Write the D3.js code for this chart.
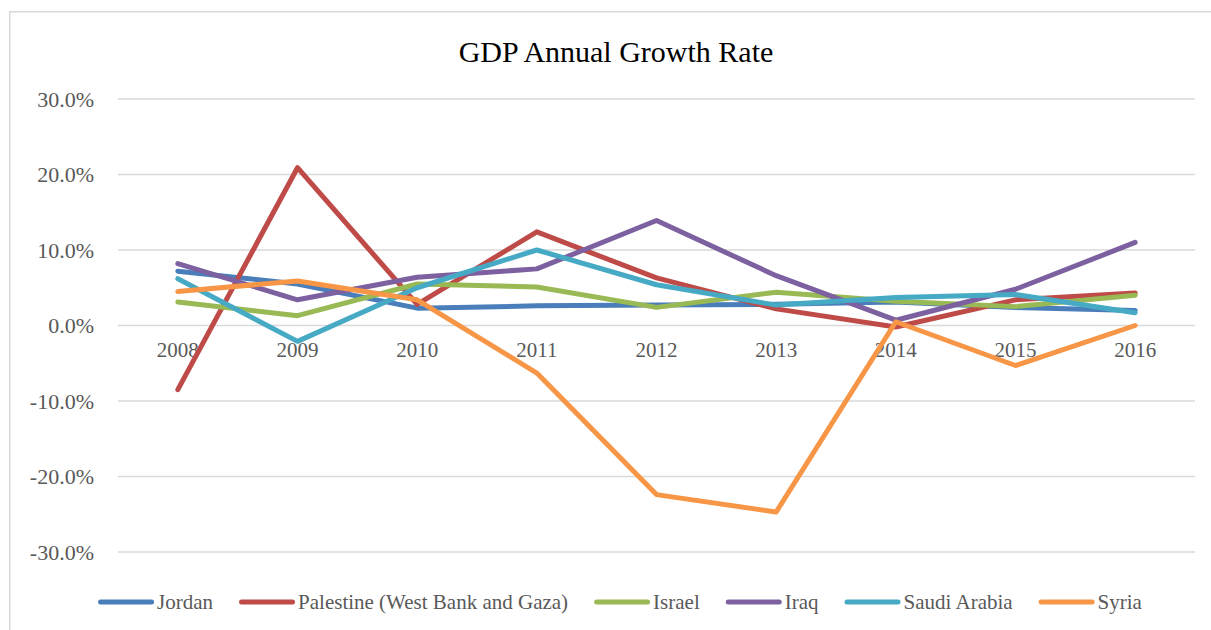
<!DOCTYPE html>
<html><head><meta charset="utf-8">
<script src="https://cdn.jsdelivr.net/npm/d3@7"></script>
<style>body{margin:0;background:#fff}svg{display:block}</style>
</head><body>
<script>
const years = ["2008","2009","2010","2011","2012","2013","2014","2015","2016"];
const jordan    = [7.2, 5.5, 2.3, 2.6, 2.7, 2.8, 3.1, 2.4, 2.0];
const palestine = [-8.5, 20.9, 2.8, 12.4, 6.3, 2.2, -0.2, 3.4, 4.3];
const israel    = [3.1, 1.3, 5.5, 5.1, 2.4, 4.4, 3.2, 2.5, 4.0];
const iraq      = [8.2, 3.4, 6.4, 7.5, 13.9, 6.6, 0.7, 4.8, 11.0];
const saudi     = [6.2, -2.1, 5.0, 10.0, 5.4, 2.7, 3.7, 4.1, 1.7];
const syria     = [4.5, 5.9, 3.4, -6.3, -22.4, -24.7, 0.5, -5.3, 0.0];
const seriesNames = ["Jordan","Palestine (West Bank and Gaza)","Israel","Iraq","Saudi Arabia","Syria"];
const yTicks = [-30,-20,-10,0,10,20,30];
const title = "GDP Annual Growth Rate";

const seriesData = [jordan, palestine, israel, iraq, saudi, syria];
const colors = ["#4A7EBB","#BE4B48","#98B954","#7D60A0","#46AAC5","#F79646"];

const W = 1211, H = 630;
const svg = d3.select("body").append("svg").attr("width", W).attr("height", H);
svg.append("rect").attr("x",9.75).attr("y",11.75).attr("width",1220).attr("height",640)
  .attr("fill","#fff").attr("stroke","#d9d9d9").attr("stroke-width",1.5);

const font = "'Liberation Serif','Times New Roman',serif";
svg.append("text").attr("x",616).attr("y",62).attr("text-anchor","middle")
  .attr("font-family",font).attr("font-size",30).attr("fill","#000").text(title);

const x = d3.scaleBand().domain(years).range([118,1195]);
const y = d3.scaleLinear().domain([-30,30]).range([552,99]);

const grid = svg.append("g");
grid.selectAll("line").data(yTicks).join("line")
  .attr("x1",118).attr("x2",1195).attr("y1",d=>y(d)).attr("y2",d=>y(d))
  .attr("stroke","#d9d9d9").attr("stroke-width",1.5);

const fmt = d => (d < 0 ? "-" : "") + Math.abs(d).toFixed(1) + "%";
const yAxis = svg.append("g").attr("transform","translate(94,0)")
  .call(d3.axisLeft(y).tickValues(yTicks).tickFormat(fmt).tickSize(0).tickPadding(0));
yAxis.select(".domain").remove();
yAxis.selectAll("text").attr("font-family",font).attr("font-size",22).attr("fill","#595959").attr("dy","0.34em");

const xAxis = svg.append("g").attr("transform",`translate(0,${y(0)})`)
  .call(d3.axisBottom(x).tickSize(0).tickPadding(17));
xAxis.select(".domain").remove();
xAxis.selectAll("text").attr("font-family",font).attr("font-size",21).attr("fill","#595959");

const line = d3.line().x((d,i)=>x(years[i])+x.bandwidth()/2).y(d=>y(d));
svg.append("g").selectAll("path").data(seriesData).join("path")
  .attr("d",d=>line(d)).attr("fill","none")
  .attr("stroke",(d,i)=>colors[i]).attr("stroke-width",5)
  .attr("stroke-linejoin","round").attr("stroke-linecap","round");

// legend
const leg = svg.append("g");
const items = leg.selectAll("g").data(seriesNames).join("g");
items.append("line").attr("x1",2.5).attr("x2",53.5).attr("y1",0).attr("y2",0)
  .attr("stroke",(d,i)=>colors[i]).attr("stroke-width",5).attr("stroke-linecap","round");
items.append("text").attr("x",59).attr("y",7).attr("font-family",font).attr("font-size",21)
  .attr("fill","#595959").text(d=>d);
let widths = [];
items.each(function(){ widths.push(59 + this.querySelector("text").getComputedTextLength()); });
const gap = 26;
const total = d3.sum(widths) + gap*(widths.length-1);
let cx = 620 - total/2;
items.each(function(d,i){ d3.select(this).attr("transform",`translate(${cx},602)`); cx += widths[i] + gap; });
</script>
</body></html>
